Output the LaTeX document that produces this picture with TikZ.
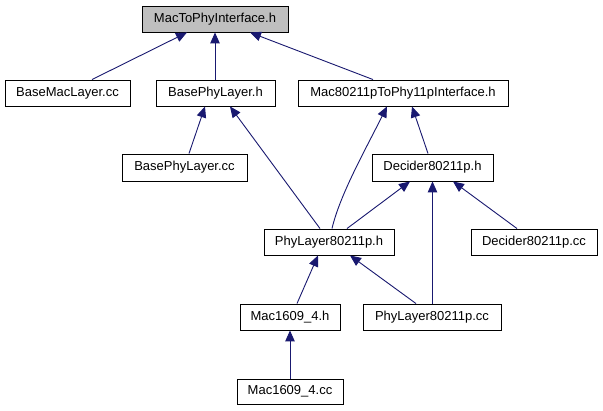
\documentclass[tikz,border=0pt]{standalone}
\usepackage{fontspec}
\setmainfont{Liberation Sans}
\usetikzlibrary{arrows.meta}
\definecolor{edgeblue}{RGB}{25,25,112}
\definecolor{rootgray}{RGB}{191,191,191}
\begin{document}
\begin{tikzpicture}[x=1pt,y=-1pt,
  filebox/.style={draw=black, line width=0.9pt, fill=white, minimum height=26pt, inner sep=0pt, font=\fontsize{13}{15}\selectfont},
  incl/.style={draw=edgeblue, line width=0.9pt, -{Triangle[length=11pt,width=9.5pt]}}]
\useasboundingbox[fill=white] (0,0) rectangle (603,411);
\node[filebox, fill=rootgray, minimum width=146pt] (top) at (215,19) {MacToPhyInterface.h};
\node[filebox, minimum width=125pt] (bml) at (67.5,93) {BaseMacLayer.cc};
\node[filebox, minimum width=119pt] (bph) at (215.5,93) {BasePhyLayer.h};
\node[filebox, minimum width=210pt] (m11p) at (403,93) {Mac80211pToPhy11pInterface.h};
\node[filebox, minimum width=125pt, minimum height=27pt] (bpcc) at (184.5,167.5) {BasePhyLayer.cc};
\node[filebox, minimum width=121pt, minimum height=27pt] (dec) at (432.5,167.5) {Decider80211p.h};
\node[filebox, minimum width=130pt] (phy) at (329,242) {PhyLayer80211p.h};
\node[filebox, minimum width=126pt] (deccc) at (534,242) {Decider80211p.cc};
\node[filebox, minimum width=100pt] (mac) at (290,317) {Mac1609\_4.h};
\node[filebox, minimum width=138pt] (phycc) at (432,317) {PhyLayer80211p.cc};
\node[filebox, minimum width=106pt, minimum height=25pt] (maccc) at (290,391.5) {Mac1609\_4.cc};

\draw[incl] ([xshift=24.5pt]bml.north) -- ([xshift=-28pt]top.south);
\draw[incl] (bph.north -| top.south) -- (top.south);
\draw[incl] ([xshift=-30pt]m11p.north) -- ([xshift=35pt]top.south);
\draw[incl] ([xshift=4.5pt]bpcc.north) -- ([xshift=-10.5pt]bph.south);
\draw[incl] ([xshift=-9pt]phy.north) -- ([xshift=14.5pt]bph.south);
\draw[incl] ([xshift=3pt]phy.north) .. controls ([xshift=11pt,yshift=34pt]phy.north) and ([xshift=-38pt,yshift=-44pt]m11p.south) .. ([xshift=-16pt]m11p.south);
\draw[incl] ([xshift=-4.5pt]dec.north) -- ([xshift=9pt]m11p.south);
\draw[incl] ([xshift=18pt]phy.north) -- ([xshift=-22.5pt]dec.south);
\draw[incl] (phycc.north -| dec.south) -- (dec.south);
\draw[incl] ([xshift=-17pt]deccc.north) -- ([xshift=20.5pt]dec.south);
\draw[incl] ([xshift=7pt]mac.north) -- ([xshift=-11pt]phy.south);
\draw[incl] ([xshift=-16pt]phycc.north) -- ([xshift=21pt]phy.south);
\draw[incl] (maccc.north) -- (mac.south);
\end{tikzpicture}
\end{document}
